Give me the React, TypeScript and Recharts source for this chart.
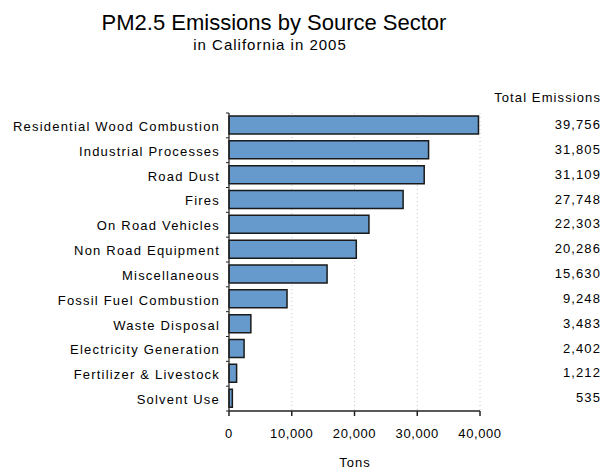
import React from "react";
import { BarChart, Bar, XAxis, YAxis, CartesianGrid, LabelList } from "recharts";

const categories = [
  "Residential Wood Combustion",
  "Industrial Processes",
  "Road Dust",
  "Fires",
  "On Road Vehicles",
  "Non Road Equipment",
  "Miscellaneous",
  "Fossil Fuel Combustion",
  "Waste Disposal",
  "Electricity Generation",
  "Fertilizer & Livestock",
  "Solvent Use",
];
const emissions = [39756, 31805, 31109, 27748, 22303, 20286, 15630, 9248, 3483, 2402, 1212, 535];
const xTicks = [0, 10000, 20000, 30000, 40000];

const title = "PM2.5 Emissions by Source Sector";
const subtitle = "in California in 2005";
const columnHeader = "Total Emissions";
const xLabel = "Tons";

const data = categories.map((c, i) => ({ name: c, value: emissions[i] }));

const W = 602;
const H = 471;
const M = { top: 113, right: 122, bottom: 0, left: 0 };
const Y_W = 229;
const X_H = 60;
const PLOT_H = H - M.top - M.bottom - X_H;
const BAND = PLOT_H / categories.length;
const FONT = "'Liberation Sans', Arial, Helvetica, sans-serif";
const TEXT = "#000";

const fmt = (v: number) => v.toLocaleString("en-US");

const YTick = (props: any) => {
  const { x, y, payload, index } = props;
  const axisX = x + 9;
  return (
    <g>
      <text
        x={x}
        y={y}
        dy={5.5}
        textAnchor="end"
        fontFamily={FONT}
        fontSize={13}
        letterSpacing={1.2}
        fill={TEXT}
      >
        {payload.value}
      </text>
      <line x1={axisX - 3} x2={axisX} y1={y - BAND / 2} y2={y - BAND / 2} stroke="#222" strokeWidth={1} />
      {index === categories.length - 1 && (
        <line x1={axisX - 3} x2={axisX} y1={y + BAND / 2} y2={y + BAND / 2} stroke="#222" strokeWidth={1} />
      )}
    </g>
  );
};

const ValueLabel = (props: any) => {
  const { y, height, value } = props;
  return (
    <text
      x={W - 1}
      y={y + height / 2}
      dy={4}
      textAnchor="end"
      fontFamily={FONT}
      fontSize={13}
      letterSpacing={1.1}
      fill={TEXT}
    >
      {fmt(value)}
    </text>
  );
};

export default function App() {
  return (
    <div style={{ position: "absolute", left: 0, top: 0, width: W, height: H, background: "#fff" }}>
      <BarChart
        width={W}
        height={H}
        data={data}
        layout="vertical"
        margin={M}
      >
        <CartesianGrid horizontal={false} vertical stroke="#c8c8c8" strokeDasharray="1 3" />
        <XAxis
          type="number"
          domain={[0, 40000]}
          ticks={xTicks}
          height={X_H}
          tickFormatter={fmt}
          tickSize={5}
          tickMargin={13}
          stroke="#222"
          strokeWidth={1.5}
          tick={{ fontFamily: FONT, fontSize: 13, fill: TEXT, letterSpacing: 0.6 } as any}
          interval={0}
        />
        <YAxis
          type="category"
          dataKey="name"
          width={Y_W}
          tickSize={0}
          tickMargin={9}
          tickLine={false}
          stroke="#222"
          strokeWidth={1.2}
          interval={0}
          tick={<YTick />}
        />
        <Bar
          dataKey="value"
          fill="#6699CC"
          stroke="#1a1a1a"
          strokeWidth={1.5}
          barSize={18}
          isAnimationActive={false}
        >
          <LabelList dataKey="value" content={<ValueLabel />} />
        </Bar>
      </BarChart>
      <svg
        width={W}
        height={H}
        style={{ position: "absolute", left: 0, top: 0, pointerEvents: "none" }}
      >
        <text x={274} y={30} textAnchor="middle" fontFamily={FONT} fontSize={22} fill={TEXT}>
          {title}
        </text>
        <text x={270} y={50} textAnchor="middle" fontFamily={FONT} fontSize={15} letterSpacing={1} fill={TEXT}>
          {subtitle}
        </text>
        <text x={601} y={102} textAnchor="end" fontFamily={FONT} fontSize={13} letterSpacing={1.1} fill={TEXT}>
          {columnHeader}
        </text>
        <text x={355} y={467} textAnchor="middle" fontFamily={FONT} fontSize={13} letterSpacing={1} fill={TEXT}>
          {xLabel}
        </text>
      </svg>
    </div>
  );
}
